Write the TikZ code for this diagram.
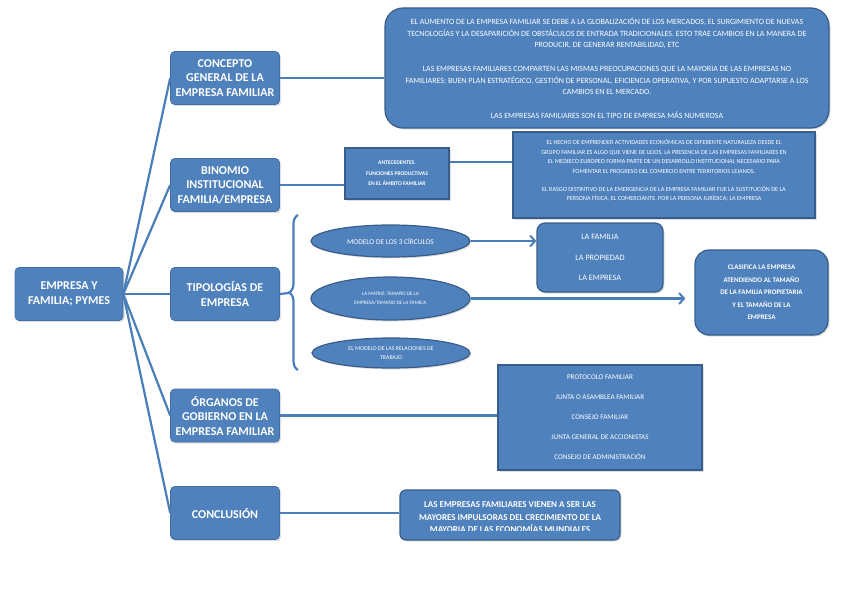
\documentclass[tikz,border=0pt]{standalone}
\usepackage{fontspec}
\setmainfont{Carlito}
\usetikzlibrary{shapes.geometric, decorations.pathreplacing, arrows.meta, shadows}

\definecolor{boxblue}{HTML}{4F81BD}
\definecolor{edgeblue}{HTML}{385D8A}
\definecolor{lineblue}{HTML}{4A7EBB}

\begin{document}
\begin{tikzpicture}[x=1pt, y=-1pt,
    shade box/.style={drop shadow={opacity=0.25, shadow xshift=1.5pt, shadow yshift=-1.5pt}},
    topic/.style={rectangle, rounded corners=4pt, fill=boxblue, draw=boxblue!85!black, line width=0.6pt,
        text=white, align=center, minimum width=109pt, minimum height=53pt, inner sep=1pt, shade box,
        font=\bfseries\fontsize{12}{14.5}\selectfont},
    note/.style={rectangle, fill=boxblue, draw=edgeblue, line width=1.2pt, text=white, align=center,
        inner sep=1pt, shade box},
    oval/.style={ellipse, fill=boxblue, draw=edgeblue, line width=1.2pt, text=white, align=center,
        inner sep=0pt, shade box},
    link/.style={draw=lineblue, line width=2.2pt},
    pointer/.style={link, -{Straight Barb[length=5pt, width=11pt, line width=2pt]}}
]
    \useasboundingbox (0,0) rectangle (848,599);

    % Main topic and branches
    \node[topic, minimum width=108pt] (root) at (69,294) {EMPRESA Y\\ FAMILIA; PYMES};
    \node[topic] (concepto) at (225,78) {CONCEPTO\\ GENERAL DE LA\\ EMPRESA FAMILIAR};
    \node[topic] (binomio) at (225,185) {BINOMIO\\ INSTITUCIONAL\\ FAMILIA/EMPRESA};
    \node[topic] (tipologias) at (225,294) {TIPOLOGÍAS DE\\ EMPRESA};
    \node[topic] (organos) at (225,415.5) {ÓRGANOS DE\\ GOBIERNO EN LA\\ EMPRESA FAMILIAR};
    \node[topic] (conclusion) at (225,513) {CONCLUSIÓN};

    \foreach \n in {concepto, binomio, tipologias, organos, conclusion}
        \draw[link] (root.east) -- (\n.west);

    % Concepto general
    \node[note, rounded corners=18pt, minimum width=444pt, minimum height=120pt,
        font=\fontsize{8}{11.7}\selectfont] (general) at (607,68) {%
        EL AUMENTO DE LA EMPRESA FAMILIAR SE DEBE A LA GLOBALIZACIÓN DE LOS MERCADOS, EL SURGIMIENTO DE NUEVAS\\
        TECNOLOGÍAS Y LA DESAPARICIÓN DE OBSTÁCULOS DE ENTRADA TRADICIONALES. ESTO TRAE CAMBIOS EN LA MANERA DE\\
        PRODUCIR, DE GENERAR RENTABILIDAD, ETC\\[11.7pt]
        LAS EMPRESAS FAMILIARES COMPARTEN LAS MISMAS PREOCUPACIONES QUE LA MAYORIA DE LAS EMPRESAS NO\\
        FAMILIARES; BUEN PLAN ESTRATÉGICO, GESTIÓN DE PERSONAL, EFICIENCIA OPERATIVA, Y POR SUPUESTO ADAPTARSE A LOS\\
        CAMBIOS EN EL MERCADO.\\[11.7pt]
        LAS EMPRESAS FAMILIARES SON EL TIPO DE EMPRESA MÁS NUMEROSA};
    \draw[link] (concepto.east) -- (concepto.east -| general.west);

    % Binomio
    \node[note, minimum width=104pt, minimum height=51pt,
        font=\bfseries\fontsize{5.6}{10.5}\selectfont] (antecedentes) at (397,173.5)
        {ANTECEDENTES.\\ FUNCIONES PRODUCTIVAS\\ EN EL ÁMBITO FAMILIAR};
    \node[note, minimum width=302pt, minimum height=86pt,
        font=\fontsize{6.2}{9.5}\selectfont] (origen) at (664,175) {%
        EL HECHO DE EMPRENDER ACTIVIDADES ECONÓMICAS DE DIFERENTE NATURALEZA DESDE EL\\
        GRUPO FAMILIAR ES ALGO QUE VIENE DE LEJOS. LA PRESENCIA DE LAS EMPRESAS FAMILIARES EN\\
        EL MEDIECO EUROPEO FORMA PARTE DE UN DESARROLLO INSTITUCIONAL NECESARIO PARA\\
        FOMENTAR EL PROGRESO DEL COMERCIO ENTRE TERRITORIOS LEJANOS.\\[8.5pt]
        EL RASGO DISTINTIVO DE LA EMERGENCIA DE LA EMPRESA FAMILIAR FUE LA SUSTITUCIÓN DE LA\\
        PERSONA FÍSICA, EL COMERCIANTE, POR LA PERSONA JURÍDICA; LA EMPRESA\\ \mbox{}};
    \draw[link] (binomio.east) -- (binomio.east -| antecedentes.west);
    \draw[link] ([yshift=11.5pt]antecedentes.east) -- ([yshift=11.5pt]antecedentes.east -| origen.west);

    % Tipologias
    \draw[link, decorate, decoration={brace, amplitude=9pt}] (298,370) -- (298,215);
    \coordinate (braceTip) at (289,293);
    \draw[link] (tipologias.east) -- (braceTip);

    \node[oval, minimum width=159pt, minimum height=32pt, font=\fontsize{7.4}{9}\selectfont]
        (circulos) at (390.5,241) {MODELO DE LOS 3 CÍRCULOS};
    \node[oval, minimum width=159pt, minimum height=43pt, font=\fontsize{5.1}{9}\selectfont]
        (matriz) at (390.5,298.5) {LA MATRIZ; TAMAÑO DE LA\\ EMPRESA/TAMAÑO DE LA FAMILIA};
    \node[oval, minimum width=158pt, minimum height=30pt, font=\fontsize{5.9}{8.5}\selectfont]
        (relaciones) at (391,353) {EL MODELO DE LAS RELACIONES DE\\ TRABAJO};

    \node[note, rounded corners=8pt, minimum width=126pt, minimum height=69pt,
        font=\fontsize{8.2}{20.5}\selectfont] (tresCirc) at (600,257.5)
        {LA FAMILIA\\ LA PROPIEDAD\\ LA EMPRESA};
    \node[note, rounded corners=14pt, minimum width=133pt, minimum height=85pt,
        font=\bfseries\fontsize{7}{12.5}\selectfont] (clasifica) at (761.5,292.5)
        {CLASIFICA LA EMPRESA\\ ATENDIENDO AL TAMAÑO\\ DE LA FAMILIA PROPIETARIA\\ Y EL TAMAÑO DE LA\\ EMPRESA};

    \draw[pointer] (circulos.east) -- (circulos.east -| tresCirc.west);
    \draw[pointer, shorten >=9pt] (matriz.east) -- (matriz.east -| clasifica.west);

    % Organos de gobierno
    \node[note, minimum width=204pt, minimum height=105pt,
        font=\fontsize{7.2}{20}\selectfont] (organosList) at (600,417.5)
        {PROTOCOLO FAMILIAR\\ JUNTA O ASAMBLEA FAMILIAR\\ CONSEJO FAMILIAR\\
        JUNTA GENERAL DE ACCIONISTAS\\ CONSEJO DE ADMINISTRACIÓN};
    \draw[link] (organos.east) -- (organos.east -| organosList.west);

    % Conclusion
    \node[note, rounded corners=6pt, minimum width=220pt, minimum height=50pt] (conclBox) at (510,515) {};
    \draw[link] (conclusion.east) -- (conclusion.east -| conclBox.west);
    \begin{scope}
        \clip (conclBox.north west) rectangle ([yshift=10pt]conclBox.south east);
        \node[text=white, align=center, font=\bfseries\fontsize{9}{12.5}\selectfont] (conclText) at (510,517.5)
            {LAS EMPRESAS FAMILIARES VIENEN A SER LAS\\ MAYORES IMPULSORAS DEL CRECIMIENTO DE LA\\
            MAYORIA DE LAS ECONOMÍAS MUNDIALES};
    \end{scope}
\end{tikzpicture}
\end{document}
